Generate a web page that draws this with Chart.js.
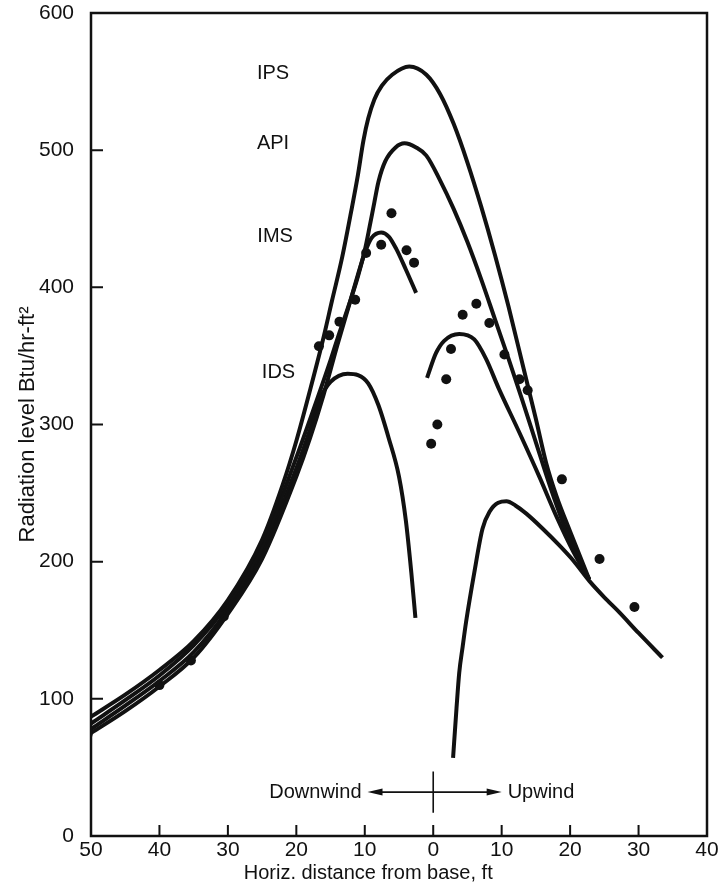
<!DOCTYPE html>
<html>
<head>
<meta charset="utf-8">
<script src="https://cdn.jsdelivr.net/npm/chart.js@4.4.1/dist/chart.umd.min.js"></script>
<style>
  html, body { margin: 0; padding: 0; background: #fff; }
  #wrap { width: 720px; height: 887px; }
</style>
</head>
<body>
<div id="wrap"><canvas id="myChart" width="720" height="887"></canvas></div>
<script>
// distances: downwind is negative, upwind positive (labels show absolute value)
const xTicks = [-50, -40, -30, -20, -10, 0, 10, 20, 30, 40];
const yTicks = [0, 100, 200, 300, 400, 500, 600];

const ipsDist  = [-50, -45, -40, -35, -30, -25, -22, -20, -18, -16, -14.8, -13.3, -12, -11, -10.2, -9.5, -8.6, -7.5, -6, -3.5, -1, 1, 3, 5, 7, 9, 11, 13, 15, 16.5, 18, 20, 22.8];
const ipsLevel = [87, 103, 121, 142, 172, 216, 256, 288, 325, 364, 390, 422, 455, 482, 507, 523, 537, 547, 555, 561, 555, 541, 519, 491, 459, 424, 386, 345, 304, 272, 248, 222, 187];

const apiDist  = [-50, -45, -40, -35, -30, -25, -20, -17, -15, -13.7, -12, -11, -10, -9.3, -8.6, -8, -7, -5.5, -4.2, -2.5, -1, 1, 3, 5, 7, 9, 11, 13, 15, 17, 19, 21, 22.8];
const apiLevel = [82, 99, 117, 139, 169, 211, 276, 318, 347, 367, 392, 408, 427, 444, 462, 477, 492, 502, 505, 502, 496, 478, 457, 433, 406, 377, 348, 318, 287, 256, 228, 205, 187];

const imsLeftDist  = [-50, -45, -40, -35, -30, -25, -20, -18, -16, -14, -12, -10, -9, -7.6, -6.5, -5.4, -4, -2.5];
const imsLeftLevel = [75, 91, 109, 130, 162, 202, 262, 290, 322, 358, 392, 425, 436, 440, 437, 428, 413, 396];

const imsRightDist  = [-0.9, 0.4, 1.6, 3.8, 6, 7.7, 9.6, 12.6, 15.5, 18, 20.5, 22.8];
const imsRightLevel = [334, 352, 361, 366, 362, 348, 326, 294, 262, 233, 207, 187];

const idsLeftDist  = [-50, -45, -40, -35, -30, -25, -20, -18, -16.5, -15, -12.5, -11, -9.5, -8, -6.5, -5, -4, -3.2, -2.6];
const idsLeftLevel = [78, 95, 113, 134, 165, 206, 268, 296, 319, 331, 337, 336, 330, 314, 290, 262, 230, 192, 159];

const idsRightDist  = [2.9, 3.4, 3.8, 4.3, 4.8, 6, 7.2, 8.3, 9.5, 10.7, 12, 13.6, 16, 18.4, 20.6, 22.8, 25, 27.2, 30, 33.5];
const idsRightLevel = [57, 93, 119, 138, 156, 192, 224, 237, 243, 244, 241, 235, 224, 212, 200, 186, 174, 163, 148, 130];

// measured points
const obsDist  = [-50.5, -40, -35.4, -30.6, -16.7, -15.2, -13.7, -11.4, -9.8, -7.6, -6.1, -3.9, -2.8, -0.3, 0.6, 1.9, 2.6, 4.3, 6.3, 8.2, 10.4, 12.6, 13.8, 18.8, 24.3, 29.4];
const obsLevel = [74, 110, 128, 160, 357, 365, 375, 391, 425, 431, 454, 427, 418, 286, 300, 333, 355, 380, 388, 374, 351, 333, 325, 260, 202, 167];

const curveNames = ['IPS', 'API', 'IMS', 'IDS'];
const curveNameDist  = [-23.4, -23.4, -23.1, -22.6];
const curveNameLevel = [556, 505, 437, 338];

const INK = '#111';
const FONT = '"Liberation Sans", Arial, sans-serif';

function pts(xs, ys) {
    return xs.map(function (v, i) { return {x: v, y: ys[i]}; });
}

function curve(label, xs, ys) {
    return {
        label: label,
        data: pts(xs, ys),
        showLine: true,
        borderColor: INK,
        borderWidth: 4,
        pointRadius: 0,
        fill: false,
        cubicInterpolationMode: 'monotone',
        borderCapStyle: 'butt',
        borderJoinStyle: 'round'
    };
}

// box, inward ticks, curve names and the wind arrows
const extras = {
    id: 'extras',
    afterDraw(chart) {
        const ctx = chart.ctx;
        const a = chart.chartArea;
        const x = chart.scales.x, y = chart.scales.y;
        ctx.save();
        ctx.strokeStyle = INK;
        ctx.fillStyle = INK;
        ctx.lineWidth = 2.5;
        ctx.strokeRect(a.left, a.top, a.right - a.left, a.bottom - a.top);

        ctx.lineWidth = 2;
        ctx.beginPath();
        xTicks.forEach(function (t) {
            const px = x.getPixelForValue(t);
            if (px > a.left + 2 && px < a.right - 2) {
                ctx.moveTo(px, a.bottom);
                ctx.lineTo(px, a.bottom - 11);
            }
        });
        yTicks.forEach(function (t) {
            const py = y.getPixelForValue(t);
            if (py > a.top + 2 && py < a.bottom - 2) {
                ctx.moveTo(a.left, py);
                ctx.lineTo(a.left + 12, py);
            }
        });
        ctx.stroke();

        ctx.font = '20px ' + FONT;
        ctx.textAlign = 'center';
        ctx.textBaseline = 'middle';
        curveNames.forEach(function (n, i) {
            ctx.fillText(n, x.getPixelForValue(curveNameDist[i]), y.getPixelForValue(curveNameLevel[i]));
        });

        // Downwind <--|--> Upwind
        const ay = y.getPixelForValue(32);
        const x0 = x.getPixelForValue(0);
        const xl = x.getPixelForValue(-9.6);
        const xr = x.getPixelForValue(10);
        ctx.lineWidth = 1.6;
        ctx.beginPath();
        ctx.moveTo(x0, y.getPixelForValue(47));
        ctx.lineTo(x0, y.getPixelForValue(17));
        ctx.moveTo(xl + 10, ay);
        ctx.lineTo(xr - 10, ay);
        ctx.stroke();
        ctx.beginPath();
        ctx.moveTo(xl, ay); ctx.lineTo(xl + 15, ay - 3.5); ctx.lineTo(xl + 15, ay + 3.5); ctx.closePath();
        ctx.moveTo(xr, ay); ctx.lineTo(xr - 15, ay - 3.5); ctx.lineTo(xr - 15, ay + 3.5); ctx.closePath();
        ctx.fill();
        ctx.textAlign = 'right';
        ctx.fillText('Downwind', xl - 6, ay);
        ctx.textAlign = 'left';
        ctx.fillText('Upwind', xr + 6, ay);

        ctx.textAlign = 'center';
        ctx.fillText('Horiz. distance from base, ft', x.getPixelForValue(-9.5), a.bottom + 37);
        ctx.restore();
    }
};

const CHART = document.getElementById('myChart');
const myChart = new Chart(CHART, {
    type: 'scatter',
    data: {
        datasets: [
            curve('IPS', ipsDist, ipsLevel),
            curve('API', apiDist, apiLevel),
            curve('IMS', imsLeftDist, imsLeftLevel),
            curve('IMS upwind', imsRightDist, imsRightLevel),
            curve('IDS', idsLeftDist, idsLeftLevel),
            curve('IDS upwind', idsRightDist, idsRightLevel),
            {
                label: 'Measured',
                data: pts(obsDist, obsLevel),
                showLine: false,
                pointRadius: 5,
                pointBackgroundColor: INK,
                pointBorderWidth: 0
            }
        ]
    },
    options: {
        responsive: false,
        animation: false,
        layout: { padding: { left: 0, top: 13, right: 13, bottom: 0 } },
        plugins: {
            legend: { display: false },
            tooltip: { enabled: false }
        },
        scales: {
            x: {
                type: 'linear',
                min: -50,
                max: 40,
                afterFit: function (s) { s.height = 51; s.paddingLeft = 0; s.paddingRight = 0; },
                afterBuildTicks: function (s) { s.ticks = xTicks.map(function (v) { return {value: v}; }); },
                grid: { display: false },
                border: { display: false },
                ticks: {
                    color: INK,
                    padding: -6,
                    font: { size: 21, family: FONT },
                    maxRotation: 0,
                    callback: function (v) { return Math.abs(v); }
                }
            },
            y: {
                min: 0,
                max: 600,
                afterFit: function (s) { s.width = 91; s.paddingTop = 0; s.paddingBottom = 0; },
                afterBuildTicks: function (s) { s.ticks = yTicks.map(function (v) { return {value: v}; }); },
                grid: { display: false },
                border: { display: false },
                title: {
                    display: true,
                    text: 'Radiation level Btu/hr-ft²',
                    color: INK,
                    font: { size: 22, family: FONT },
                    padding: { top: 15, bottom: 0 }
                },
                ticks: {
                    color: INK,
                    padding: 9,
                    font: { size: 21, family: FONT }
                }
            }
        }
    },
    plugins: [extras]
});
</script>
</body>
</html>
